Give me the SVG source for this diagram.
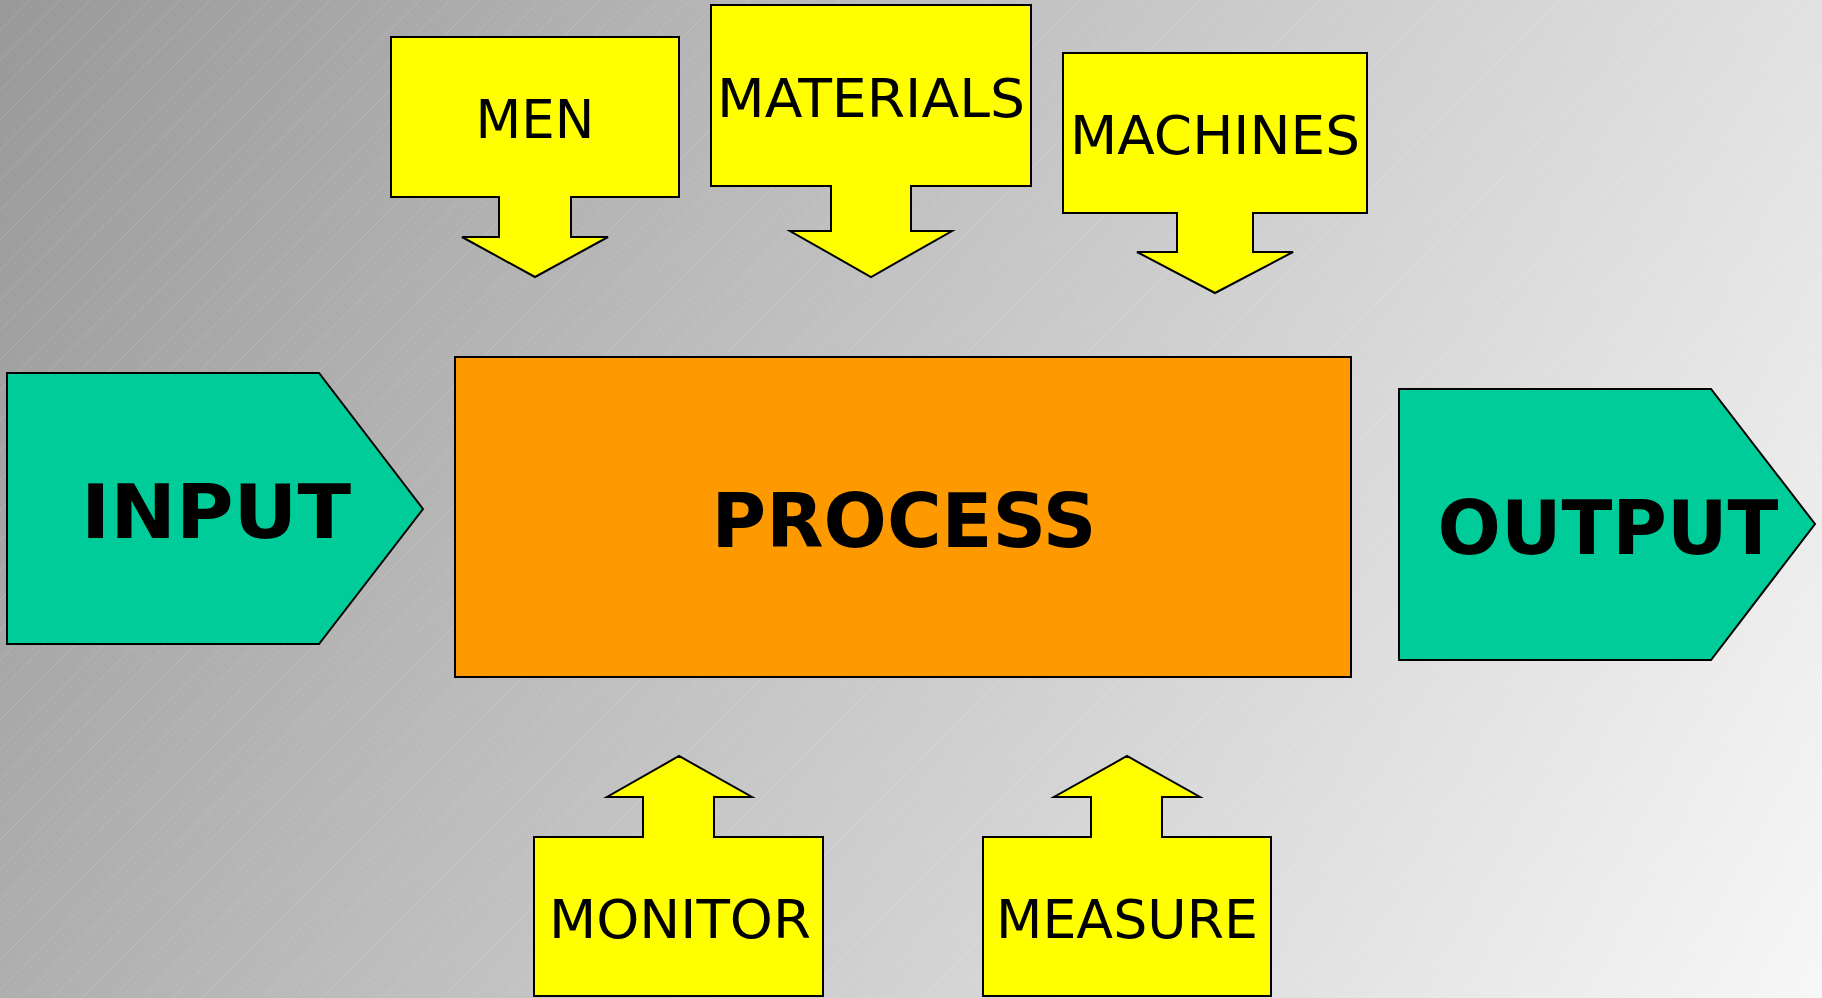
<svg xmlns="http://www.w3.org/2000/svg" width="1822" height="998" viewBox="0 0 1822 998">
  <defs>
    <linearGradient id="bg" gradientUnits="userSpaceOnUse" x1="0" y1="0" x2="1822" y2="998">
      <stop offset="0" stop-color="#999999"/>
      <stop offset="1" stop-color="#f7f7f7"/>
    </linearGradient>
    <pattern id="hatch" patternUnits="userSpaceOnUse" width="30" height="30">
      <path d="M-5,5 L5,-5 M0,30 L30,0 M25,35 L35,25" stroke="#ffffff" stroke-opacity="0.2" stroke-width="1" stroke-dasharray="1.5,0.8" fill="none"/>
    </pattern>
    <style>
      .y { fill: #ffff00; stroke: #000; stroke-width: 2; stroke-linejoin: miter; }
      .g { fill: #00cc99; stroke: #000; stroke-width: 2; }
      .o { fill: #ff9900; stroke: #000; stroke-width: 2; }
      .t { font-family: "DejaVu Sans", Verdana, sans-serif; font-size: 53px; fill: #000; text-anchor: middle; }
      .b { font-family: "DejaVu Sans", Verdana, sans-serif; font-size: 74px; font-weight: bold; fill: #000; text-anchor: middle; }
    </style>
  </defs>
  <rect x="0" y="0" width="1822" height="998" fill="url(#bg)"/>
  <rect x="0" y="0" width="1822" height="998" fill="url(#hatch)"/>

  <g id="men">
    <path class="y" d="M391,37 H679 V197 H571 V237 H608 L535,277 L462,237 H499 V197 H391 Z"/>
    <text class="t" x="535" y="138">MEN</text>
  </g>
  <g id="materials">
    <path class="y" d="M711,5 H1031 V186 H911 V231 H952 L871,277 L790,231 H831 V186 H711 Z"/>
    <text class="t" x="871" y="117" textLength="308" lengthAdjust="spacingAndGlyphs">MATERIALS</text>
  </g>
  <g id="machines">
    <path class="y" d="M1063,53 H1367 V213 H1253 V252 H1293 L1215,293 L1137,252 H1177 V213 H1063 Z"/>
    <text class="t" x="1215" y="154" textLength="290" lengthAdjust="spacingAndGlyphs">MACHINES</text>
  </g>
  <g id="input">
    <path class="g" d="M7,373 H319 L423,509 L319,644 H7 Z"/>
    <text class="b" x="216" y="538" textLength="270" lengthAdjust="spacingAndGlyphs">INPUT</text>
  </g>
  <g id="process">
    <rect class="o" x="455" y="357" width="896" height="320"/>
    <text class="b" x="904" y="547" textLength="385" lengthAdjust="spacingAndGlyphs">PROCESS</text>
  </g>
  <g id="output">
    <path class="g" d="M1399,389 H1711 L1815,524 L1711,660 H1399 Z"/>
    <text class="b" x="1608" y="554" textLength="341" lengthAdjust="spacingAndGlyphs">OUTPUT</text>
  </g>
  <g id="monitor">
    <path class="y" d="M534,837 H643 V797 H607 L679,756 L752,797 H714 V837 H823 V996 H534 Z"/>
    <text class="t" x="680" y="938" textLength="262" lengthAdjust="spacingAndGlyphs">MONITOR</text>
  </g>
  <g id="measure">
    <path class="y" d="M983,837 H1091 V797 H1054 L1127,756 L1200,797 H1162 V837 H1271 V996 H983 Z"/>
    <text class="t" x="1127" y="938" textLength="262" lengthAdjust="spacingAndGlyphs">MEASURE</text>
  </g>
  <g id="connectors"/>
</svg>
